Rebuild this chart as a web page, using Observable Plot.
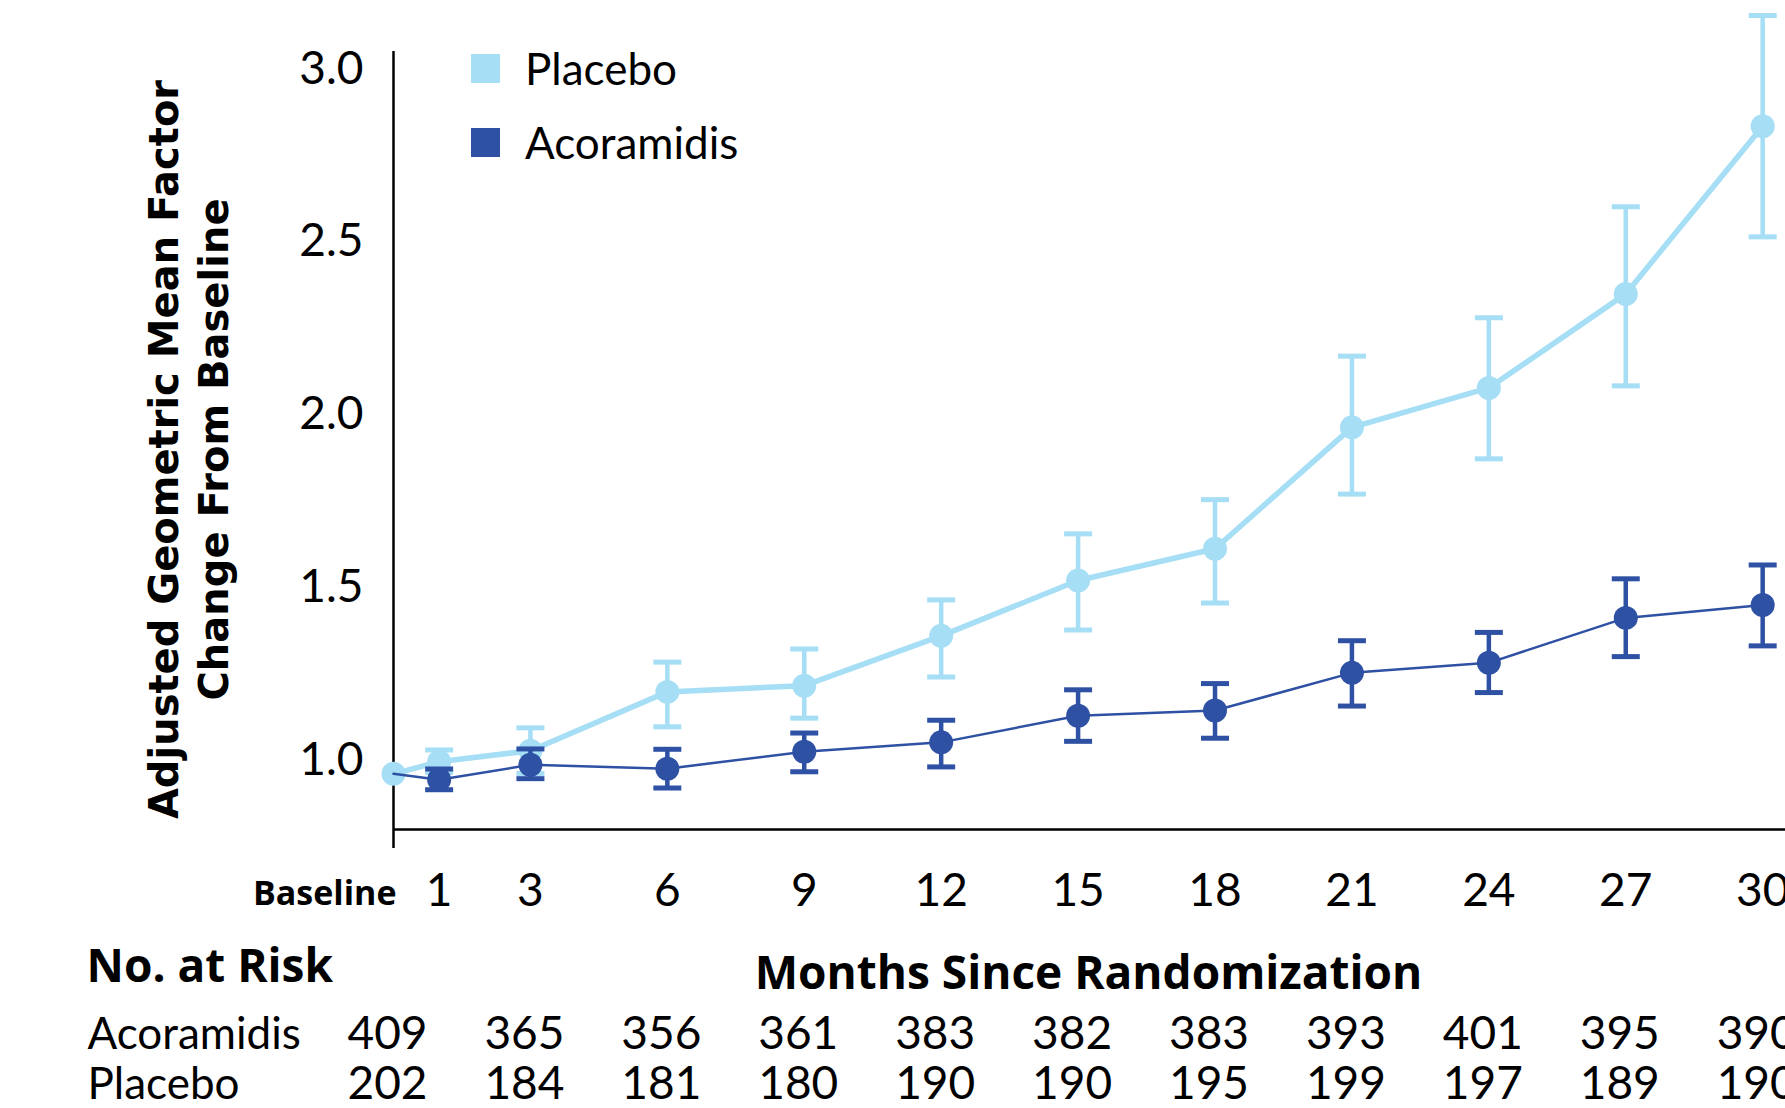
<!DOCTYPE html>
<html>
<head>
<meta charset="utf-8">
<script src="https://cdn.jsdelivr.net/npm/d3@7"></script>
<script src="https://cdn.jsdelivr.net/npm/@observablehq/plot@0.6"></script>
<style>
  html, body { margin: 0; padding: 0; background: white; overflow: hidden; }
  #wrap { position: relative; width: 1785px; height: 1108px; overflow: hidden; }
  #legend { position: absolute; left: 471px; top: 54px; font-family: Lato, sans-serif; font-size: 44px; color: #000; }
  .item { position: relative; height: 29px; margin-bottom: 45px; }
  .sw { position: absolute; left: 0; top: 0; width: 29px; height: 29px; }
  .lab { position: absolute; left: 54px; top: 50%; transform: translateY(-52%); white-space: nowrap; line-height: 1; }
</style>
</head>
<body>
<div id="wrap"></div>
<script>
// ---- data ----
const months = [0, 1, 3, 6, 9, 12, 15, 18, 21, 24, 27, 30];
const placeboMean = [0.961, 0.996, 1.028, 1.198, 1.216, 1.360, 1.520, 1.612, 1.963, 2.077, 2.349, 2.834];
const placeboLo   = [null, 0.965, 0.962, 1.097, 1.122, 1.241, 1.377, 1.455, 1.770, 1.872, 2.083, 2.514];
const placeboHi   = [null, 1.030, 1.094, 1.284, 1.322, 1.464, 1.655, 1.754, 2.169, 2.280, 2.601, 3.154];
const acoMean = [0.961, 0.944, 0.987, 0.976, 1.025, 1.052, 1.129, 1.144, 1.253, 1.282, 1.412, 1.449];
const acoLo   = [null, 0.915, 0.947, 0.920, 0.967, 0.981, 1.055, 1.064, 1.157, 1.196, 1.300, 1.331];
const acoHi   = [null, 0.975, 1.033, 1.032, 1.079, 1.116, 1.204, 1.222, 1.346, 1.370, 1.525, 1.565];

const xTicks = [1, 3, 6, 9, 12, 15, 18, 21, 24, 27, 30];
const yTicks = [1.0, 1.5, 2.0, 2.5, 3.0];

const riskMonths = [0, 3, 6, 9, 12, 15, 18, 21, 24, 27, 30];
const riskAcoramidis = [409, 365, 356, 361, 383, 382, 383, 393, 401, 395, 390];
const riskPlacebo    = [202, 184, 181, 180, 190, 190, 195, 199, 197, 189, 190];

const seriesNames = ["Placebo", "Acoramidis"];
const colors = {Placebo: "#a6def5", Acoramidis: "#2e51a4"};

// ---- build tables ----
const placebo = months.map((m, i) => ({month: m, mean: placeboMean[i], lo: placeboLo[i], hi: placeboHi[i]}));
const aco = months.map((m, i) => ({month: m, mean: acoMean[i], lo: acoLo[i], hi: acoHi[i]}));
const riskA = riskMonths.map((m, i) => ({month: m, n: riskAcoramidis[i]}));
const riskP = riskMonths.map((m, i) => ({month: m, n: riskPlacebo[i]}));

const cap = {
  draw(ctx, size) {
    const h = Math.sqrt(size / Math.PI);
    ctx.moveTo(-h, 0);
    ctx.lineTo(h, 0);
  }
};

function seriesMarks(data, color, lineW, withBaselineDot) {
  const bars = data.filter(d => d.lo != null);
  return [
    Plot.line(data, {x: "month", y: "mean", stroke: color, strokeWidth: lineW}),
    Plot.ruleX(bars, {x: "month", y1: "lo", y2: "hi", stroke: color, strokeWidth: 4.5}),
    Plot.dot(bars, {x: "month", y: "lo", symbol: cap, r: 14, stroke: color, strokeWidth: 5, fill: "none"}),
    Plot.dot(bars, {x: "month", y: "hi", symbol: cap, r: 14, stroke: color, strokeWidth: 5, fill: "none"}),
    Plot.dot(withBaselineDot ? data : data.filter(d => d.month > 0), {x: "month", y: "mean", r: 12, fill: color, stroke: "none"})
  ];
}

const bold = "'Open Sans', sans-serif";
const reg = "Lato, sans-serif";

const plot = Plot.plot({
  width: 1785,
  height: 1108,
  marginLeft: 393,
  marginRight: 0,
  marginTop: 51,
  marginBottom: 279,
  x: {domain: [0, 30.5]},
  y: {domain: [0.8, 3.05]},
  style: {fontFamily: reg, background: "white", color: "black", overflow: "visible"},
  marks: [
    Plot.axisY({ticks: yTicks, tickFormat: d3.format(".1f"), tickSize: 0, tickPadding: 30, fontSize: 46, label: null}),
    Plot.axisX({ticks: xTicks, tickSize: 0, tickPadding: 44, fontSize: 46, label: null}),
    Plot.ruleY([0.8], {stroke: "black", strokeWidth: 2.5}),
    Plot.ruleX([0], {stroke: "black", strokeWidth: 2.5, insetBottom: -19}),
    ...seriesMarks(placebo, colors.Placebo, 5.5, true),
    ...seriesMarks(aco, colors.Acoramidis, 2.5, false),
    // axis titles
    Plot.text(["Adjusted Geometric Mean Factor\nChange From Baseline"], {
      text: d => d, frameAnchor: "left", textAnchor: "middle", lineAnchor: "middle", rotate: -90, dx: -207, dy: 9,
      fontFamily: "'DejaVu Sans', sans-serif", fontWeight: "bold", fontSize: 40, lineHeight: 1.25, fill: "black"
    }),
    Plot.text(["Baseline"], {text: d => d, frameAnchor: "bottom-left", textAnchor: "end", lineAnchor: "middle", dx: 3, dy: 65,
      fontFamily: bold, fontWeight: "bold", fontSize: 34, fill: "black"}),
    Plot.text(["No. at Risk"], {text: d => d, frameAnchor: "bottom-left", textAnchor: "start", lineAnchor: "middle", dx: -307, dy: 138,
      fontFamily: bold, fontWeight: "bold", fontSize: 46, fill: "black"}),
    Plot.text(["Months Since Randomization"], {text: d => d, frameAnchor: "bottom-left", textAnchor: "middle", lineAnchor: "middle", dx: 695, dy: 145,
      fontFamily: bold, fontWeight: "bold", fontSize: 46, fill: "black"}),
    // risk table
    Plot.text([seriesNames[1]], {text: d => d, frameAnchor: "bottom-left", textAnchor: "start", lineAnchor: "middle", dx: -306, dy: 205,
      fontFamily: reg, fontSize: 44, fill: "black"}),
    Plot.text([seriesNames[0]], {text: d => d, frameAnchor: "bottom-left", textAnchor: "start", lineAnchor: "middle", dx: -306, dy: 255,
      fontFamily: reg, fontSize: 44, fill: "black"}),
    Plot.text(riskA, {x: "month", text: "n", frameAnchor: "bottom", lineAnchor: "middle", dx: -6, dy: 205, fontFamily: reg, fontSize: 46, fill: "black"}),
    Plot.text(riskP, {x: "month", text: "n", frameAnchor: "bottom", lineAnchor: "middle", dx: -6, dy: 255, fontFamily: reg, fontSize: 46, fill: "black"})
  ]
});
plot.style.maxWidth = "none";

const wrap = document.getElementById("wrap");
wrap.appendChild(plot);

// legend (HTML overlay)
const legend = document.createElement("div");
legend.id = "legend";
for (const name of seriesNames) {
  const item = document.createElement("div");
  item.className = "item";
  const sw = document.createElement("div");
  sw.className = "sw";
  sw.style.background = colors[name];
  const lab = document.createElement("div");
  lab.className = "lab";
  lab.textContent = name;
  item.appendChild(sw);
  item.appendChild(lab);
  legend.appendChild(item);
}
wrap.appendChild(legend);
</script>
</body>
</html>
